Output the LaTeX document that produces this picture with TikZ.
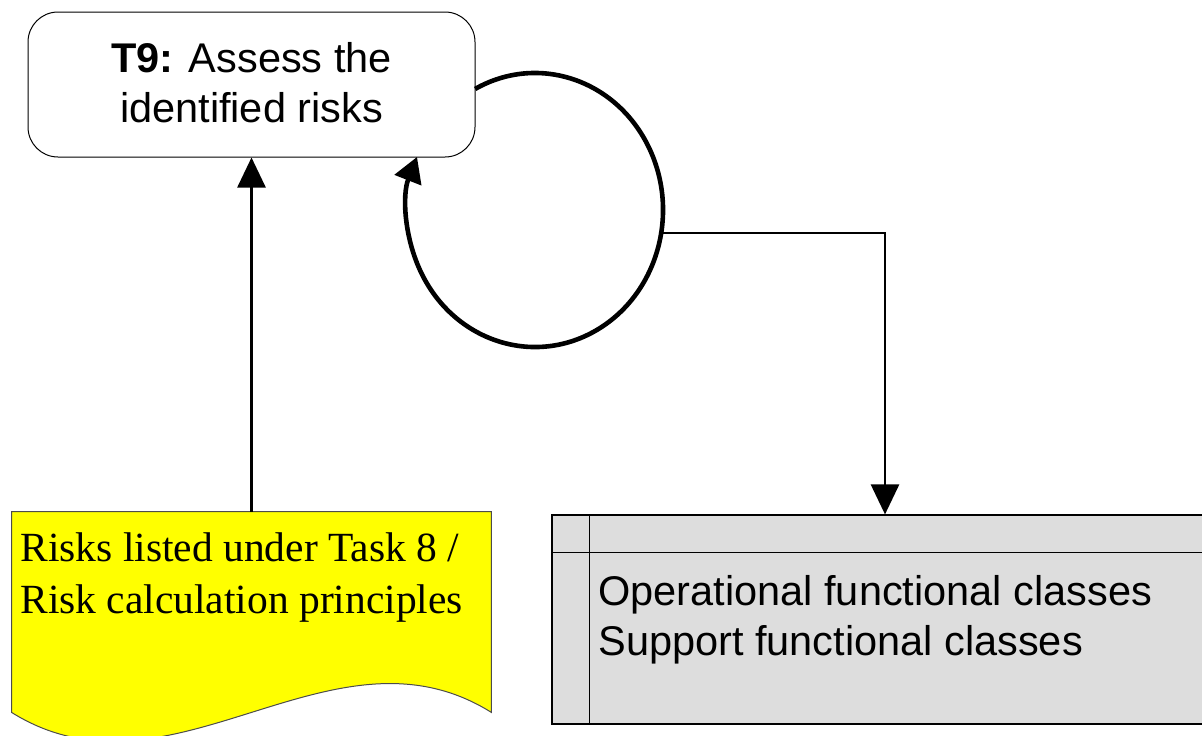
\documentclass[tikz,border=0pt]{standalone}
\usepackage{fontspec}
\setmainfont{Liberation Serif}
\newfontfamily\arialf{Liberation Sans}
\usetikzlibrary{arrows.meta,calc}
\definecolor{docyellow}{RGB}{255,255,0}
\definecolor{classgrey}{RGB}{221,221,221}
\begin{document}
\begin{tikzpicture}[x=0.5pt,y=0.5pt,
  taskbox/.style={draw=black, line width=0.5pt, rounded corners=15pt, minimum width=223.5pt, minimum height=72.5pt, inner sep=0pt},
  sanstext/.style={font=\arialf\fontsize{20.75}{25}\selectfont, inner sep=0pt},
  seriftext/.style={font=\fontsize{20.75}{26}\selectfont, inner sep=0pt},
  conn/.style={line width=1.35pt, -{Triangle[width=14pt,length=15pt]}},
  loopline/.style={line width=2.3pt, -{Triangle[width=14pt,length=12.5pt]}},
  docframe/.style={minimum width=239.5pt, minimum height=100pt, inner sep=0pt},
  docshape/.style={fill=docyellow, draw=black!70, line width=0.5pt},
  classbox/.style={draw=black, fill=classgrey, line width=0.6pt, minimum width=333pt, minimum height=104.5pt, inner sep=0pt},
  classline/.style={draw=black, line width=0.6pt},
]
\useasboundingbox (0,0) rectangle (1202,-735);

% task box
\node[taskbox] (t9) at (251.5,-84.5) {};
\node[sanstext, anchor=base] (t9t) at (251.5,-72)
  {\begin{tabular}[t]{@{}c@{}}\textbf{T9:} Assess the\\identified risks\end{tabular}};

% document shape
\node[docframe] (doc) at (251.5,-612) {};
\path[docshape] (doc.north west) -- (doc.north east) -- (doc.south east)
  .. controls +(-160,100) and ($(doc.south west)+(160,-100)$) .. (doc.south west) -- cycle;
\node[seriftext, anchor=base west] (doct) at (20,-561)
  {\begin{tabular}[t]{@{}l@{}}Risks listed under Task 8 /\\Risk calculation principles\end{tabular}};

% class box
\node[classbox] (cls) at (885,-619.5) {};
\draw[classline] ($(cls.north west)+(38,0)$) -- ($(cls.south west)+(38,0)$);
\draw[classline] ($(cls.north west)+(0,-38)$) -- ($(cls.north east)+(0,-38)$);
\node[sanstext, anchor=base west] (clst) at (598,-605)
  {\begin{tabular}[t]{@{}l@{}}Operational functional classes\\Support functional classes\end{tabular}};

% connectors
\draw[conn] (doc.north) -- (t9.south);
\coordinate (lc) at (535,-210);
\draw[loopline] ($(lc)+(117.9:64pt and 68.5pt)$)
  arc[start angle=117.9, end angle=-202.8, x radius=64pt, y radius=68.5pt];
\coordinate (lr) at (661,-233);
\draw[conn] (lr) -| (cls.north);
\end{tikzpicture}
\end{document}
